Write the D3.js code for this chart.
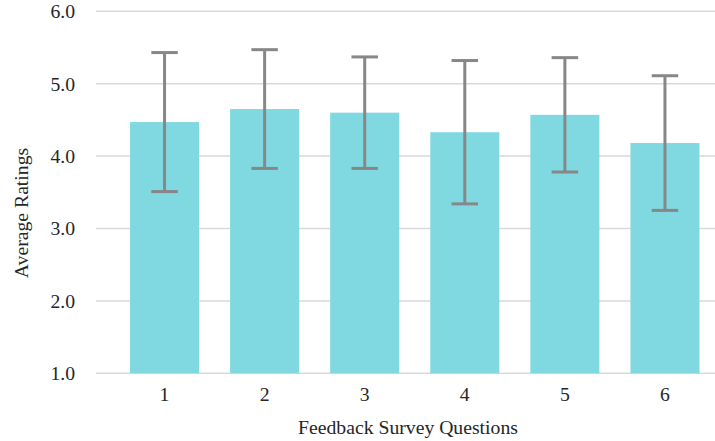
<!DOCTYPE html>
<html>
<head>
<meta charset="utf-8">
<script src="https://cdn.jsdelivr.net/npm/d3@7"></script>
<style>
  html, body { margin: 0; padding: 0; background: #fff; }
  svg { display: block; }
</style>
</head>
<body>
<svg id="chart" width="715" height="441"></svg>
<script>
const categories = ["1", "2", "3", "4", "5", "6"];
const means = [4.47, 4.65, 4.60, 4.33, 4.57, 4.18];
const errors = [0.96, 0.82, 0.77, 0.99, 0.79, 0.93];
const yTicks = [1, 2, 3, 4, 5, 6];
const xTitle = "Feedback Survey Questions";
const yTitle = "Average Ratings";

const svg = d3.select("#chart");
const FONT = "Liberation Serif";
const FS = 19.7;
const textColor = "#262626";
const gridLeft = 96, plotRight = 715, plotTop = 11.3, plotBottom = 373.3;

const x = d3.scaleBand().domain(categories).range([114.5, 715])
  .paddingInner(0.31).paddingOuter(0.155);
const y = d3.scaleLinear().domain([1, 6]).range([plotBottom, plotTop]);

// gridlines
svg.append("g").selectAll("line").data(yTicks).join("line")
  .attr("x1", gridLeft).attr("x2", plotRight)
  .attr("y1", d => y(d)).attr("y2", d => y(d))
  .attr("stroke", "#d9d9d9").attr("stroke-width", 1.5);

// y tick labels
svg.append("g").selectAll("text").data(yTicks).join("text")
  .attr("x", 75).attr("y", d => y(d)).attr("dy", "0.35em")
  .attr("text-anchor", "end").attr("font-size", FS)
  .attr("font-family", FONT).attr("fill", textColor)
  .text(d => d3.format(".1f")(d));

// bars
svg.append("g").selectAll("rect").data(means).join("rect")
  .attr("x", (d, i) => x(categories[i]))
  .attr("width", x.bandwidth())
  .attr("y", d => y(d))
  .attr("height", d => y(1) - y(d))
  .attr("fill", "#80d9e1");

// error bars
const capW = 26.5;
const eg = svg.append("g").attr("stroke", "#878787").attr("stroke-width", 3);
means.forEach((m, i) => {
  const cx = x(categories[i]) + x.bandwidth() / 2;
  const hi = y(m + errors[i]), lo = y(m - errors[i]);
  eg.append("line").attr("x1", cx).attr("x2", cx).attr("y1", hi).attr("y2", lo);
  eg.append("line").attr("x1", cx - capW / 2).attr("x2", cx + capW / 2).attr("y1", hi).attr("y2", hi);
  eg.append("line").attr("x1", cx - capW / 2).attr("x2", cx + capW / 2).attr("y1", lo).attr("y2", lo);
});

// x tick labels
svg.append("g").selectAll("text").data(categories).join("text")
  .attr("x", d => x(d) + x.bandwidth() / 2).attr("y", 401)
  .attr("text-anchor", "middle").attr("font-size", FS)
  .attr("font-family", FONT).attr("fill", textColor)
  .text(d => d);

// axis titles
svg.append("text").attr("x", 408).attr("y", 434).attr("fill", textColor)
  .attr("font-family", FONT)
  .attr("text-anchor", "middle").attr("font-size", FS).text(xTitle);
svg.append("text").attr("transform", "translate(28,213) rotate(-90)").attr("fill", textColor)
  .attr("font-family", FONT)
  .attr("text-anchor", "middle").attr("font-size", FS).text(yTitle);
</script>
</body>
</html>
